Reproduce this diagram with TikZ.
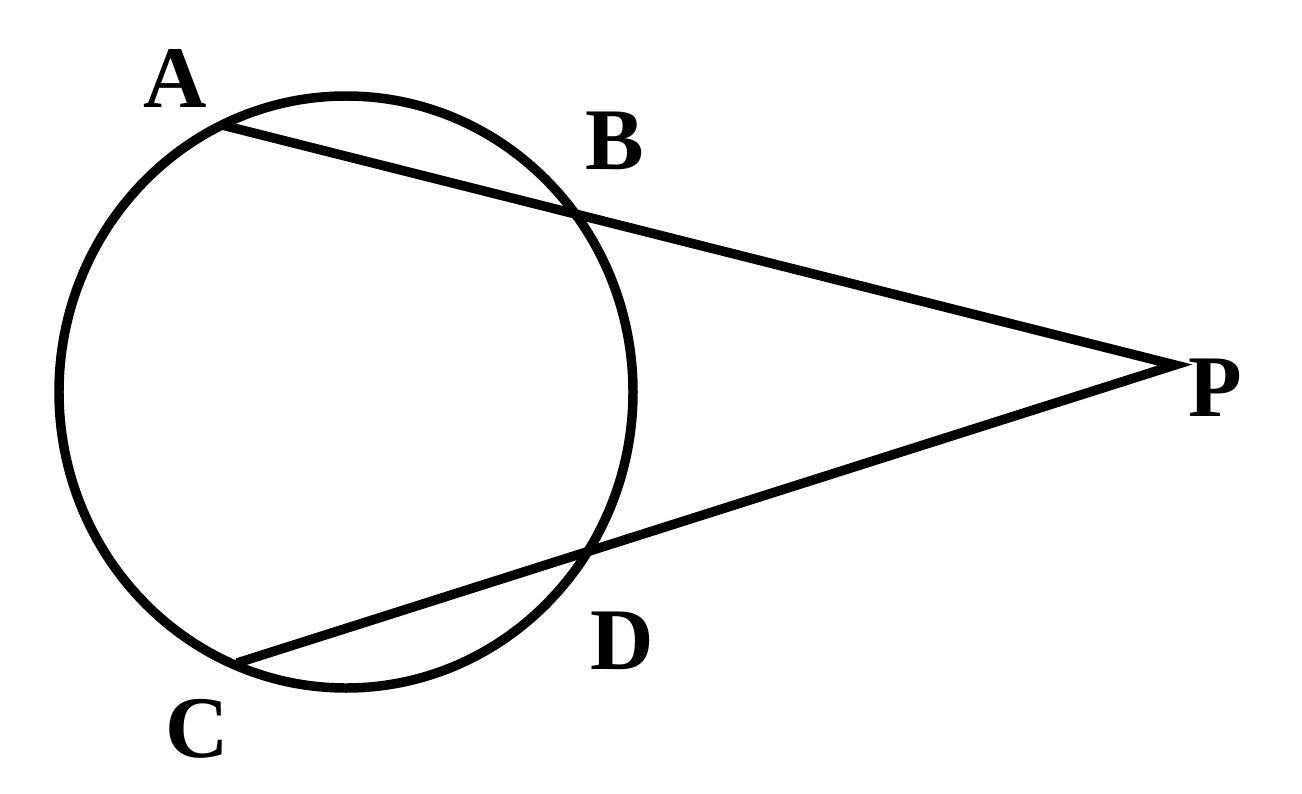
\documentclass[tikz,border=0pt]{standalone}
\usepackage{fontspec}
\setmainfont{Liberation Serif}
\usepackage{tikz}
\usetikzlibrary{positioning, calc}

\begin{document}
\begin{tikzpicture}[
    line width=2.7pt,
    ptlabel/.style={font=\fontsize{25}{29}\selectfont\bfseries, inner sep=0pt},
]
    \useasboundingbox (0,0) rectangle (13.02,7.93);

    % Circle
    \coordinate (O) at (3.46,4.01);
    \draw (O) ellipse [x radius=2.87, y radius=2.96];

    % Points
    \coordinate (A) at (2.22,6.68);
    \coordinate (B) at (5.68,5.81);
    \coordinate (P) at (11.75,4.28);
    \coordinate (D) at (5.85,2.41);
    \coordinate (C) at (2.37,1.30);

    % Secants
    \draw[line join=miter] (A) -- (P) -- (C);

    % Labels
    \node[ptlabel] (lA) at (1.75,7.15) {A};
    \node[ptlabel] (lB) at (6.15,6.52) {B};
    \node[ptlabel] (lP) at (12.15,4.05) {P};
    \node[ptlabel] (lD) at (6.22,1.52) {D};
    \node[ptlabel] (lC) at (1.97,0.64) {C};
\end{tikzpicture}
\end{document}
